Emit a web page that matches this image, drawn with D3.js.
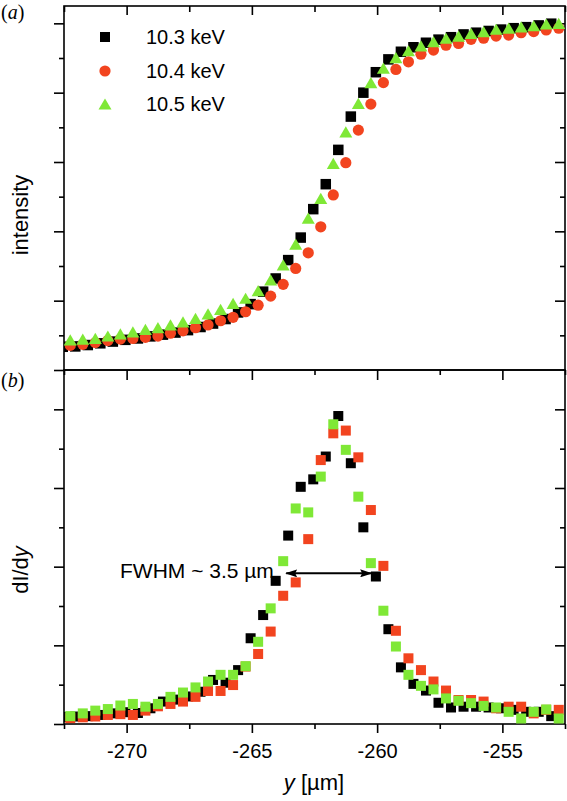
<!DOCTYPE html>
<html><head><meta charset="utf-8">
<script src="https://cdn.jsdelivr.net/npm/d3@7"></script>
<style>
html,body{margin:0;padding:0;background:#fff;}
svg{display:block;}
text{font-family:"Liberation Sans",Arial,sans-serif;fill:#000;}
</style></head>
<body>
<script>
// ---------- data ----------
const seriesNames = ["10.3 keV", "10.4 keV", "10.5 keV"];
const seriesColors = ["#000000", "#f2441f", "#7fe836"];

// x positions (µm)
const xBlack = [-272.55,-272.05,-271.55,-271.05,-270.55,-270.05,-269.55,-269.05,-268.55,-268.05,
  -267.55,-267.05,-266.55,-266.05,-265.55,-265.05,-264.55,-264.05,-263.55,-263.05,
  -262.55,-262.05,-261.55,-261.05,-260.55,-260.05,-259.55,-259.05,-258.55,-258.05,
  -257.55,-257.05,-256.55,-256.05,-255.55,-255.05,-254.55,-254.05,-253.55,-253.05];
const xColor = [-272.25,-271.75,-271.25,-270.75,-270.25,-269.75,-269.25,-268.75,-268.25,-267.75,
  -267.25,-266.75,-266.25,-265.75,-265.25,-264.75,-264.25,-263.75,-263.25,-262.75,
  -262.25,-261.75,-261.25,-260.75,-260.25,-259.75,-259.25,-258.75,-258.25,-257.75,
  -257.25,-256.75,-256.25,-255.75,-255.25,-254.75,-254.25,-253.75,-253.25,-252.75];

// panel (a): intensity
const intensity103 = [0.067,0.068,0.072,0.077,0.082,0.087,0.091,0.097,0.102,0.108,
  0.115,0.124,0.134,0.147,0.166,0.190,0.226,0.264,0.317,0.382,
  0.464,0.536,0.635,0.731,0.800,0.859,0.896,0.918,0.931,0.944,
  0.953,0.960,0.968,0.973,0.978,0.982,0.986,0.989,0.994,0.999];
const intensity104 = [0.071,0.074,0.079,0.085,0.089,0.091,0.094,0.098,0.106,0.113,
  0.122,0.130,0.142,0.152,0.168,0.187,0.213,0.247,0.293,0.338,
  0.413,0.505,0.598,0.692,0.767,0.829,0.867,0.889,0.911,0.923,
  0.937,0.942,0.954,0.957,0.963,0.966,0.973,0.976,0.981,0.986];
const intensity105 = [0.087,0.089,0.091,0.098,0.104,0.110,0.117,0.122,0.130,0.139,
  0.149,0.162,0.175,0.192,0.207,0.229,0.260,0.303,0.363,0.438,
  0.495,0.596,0.687,0.769,0.829,0.871,0.901,0.921,0.935,0.947,
  0.957,0.963,0.971,0.976,0.983,0.986,0.990,0.993,0.998,1.000];

// panel (b): dI/dy
const deriv103 = [0.018,0.019,0.020,0.023,0.027,0.030,0.028,0.040,0.057,0.062,
  0.070,0.082,0.112,0.105,0.137,0.218,0.277,0.364,0.479,0.603,
  0.622,0.680,0.783,0.663,0.500,0.375,0.241,0.144,0.102,0.085,
  0.054,0.042,0.044,0.044,0.042,0.040,0.036,0.031,0.031,0.020];
const deriv104 = [0.015,0.017,0.019,0.023,0.025,0.023,0.034,0.045,0.051,0.057,
  0.069,0.084,0.084,0.099,0.146,0.178,0.235,0.326,0.360,0.470,
  0.671,0.739,0.746,0.678,0.544,0.402,0.237,0.167,0.137,0.108,
  0.085,0.061,0.061,0.057,0.040,0.044,0.044,0.027,0.036,0.036];
const deriv105 = [0.020,0.027,0.034,0.038,0.047,0.051,0.044,0.051,0.069,0.080,
  0.093,0.108,0.125,0.125,0.147,0.209,0.294,0.414,0.548,0.538,
  0.629,0.762,0.697,0.578,0.409,0.288,0.197,0.125,0.097,0.088,
  0.065,0.059,0.053,0.046,0.042,0.031,0.014,0.031,0.037,0.014];

const xMajorTicks = [-270, -265, -260, -255];
const xMinorTicks = [-272.5, -267.5, -262.5, -257.5, -252.5];
const xTickLabels = ["-270", "-265", "-260", "-255"];
const yaMajor = [0, 0.2, 0.4, 0.6, 0.8, 1.0];
const yaMinor = [0.1, 0.3, 0.5, 0.7, 0.9];
const ybMajor = [0, 0.2, 0.4, 0.6, 0.8];
const ybMinor = [0.1, 0.3, 0.5, 0.7];
const fwhmArrow = [-263.63, -260.24];
const fwhmLevel = 0.383;
const fwhmText = "FWHM ~ 3.5 µm";

// ---------- layout ----------
const W = 567, H = 801;
const L = 64, R = 565, topA = 6, mid = 370, botB = 724;
const svg = d3.select("body").append("svg").attr("width", W).attr("height", H);

const x = d3.scaleLinear().domain([-272.5, -252.5]).range([L, R]);
const yA = d3.scaleLinear().domain([0, 1.05]).range([mid, topA]);
const yB = d3.scaleLinear().domain([0, 0.9]).range([botB, mid]);

svg.append("defs").append("clipPath").attr("id", "clipA")
  .append("rect").attr("x", L).attr("y", topA).attr("width", R - L).attr("height", mid - topA);
svg.select("defs").append("clipPath").attr("id", "clipB")
  .append("rect").attr("x", L).attr("y", mid).attr("width", R - L).attr("height", botB - mid);

function axisG(axis, tx, ty) {
  const g = svg.append("g").attr("transform", `translate(${tx},${ty})`).call(axis);
  g.select(".domain").remove();
  g.selectAll("line").attr("stroke", "#000").attr("stroke-width", 1.6);
  g.selectAll("text").remove();
  return g;
}
// panel a ticks
axisG(d3.axisTop(x).tickValues(xMajorTicks).tickSize(-9), 0, topA);
axisG(d3.axisTop(x).tickValues(xMinorTicks).tickSize(-6), 0, topA);
axisG(d3.axisLeft(yA).tickValues(yaMajor).tickSize(10), L, 0);
axisG(d3.axisLeft(yA).tickValues(yaMinor).tickSize(5), L, 0);
axisG(d3.axisRight(yA).tickValues(yaMajor.slice(1)).tickSize(-10), R, 0);
axisG(d3.axisRight(yA).tickValues(yaMinor).tickSize(-5), R, 0);
// panel b ticks
axisG(d3.axisTop(x).tickValues(xMajorTicks).tickSize(-10), 0, mid);
axisG(d3.axisTop(x).tickValues(xMinorTicks).tickSize(-5), 0, mid);
axisG(d3.axisLeft(yB).tickValues(ybMajor).tickSize(10), L, 0);
axisG(d3.axisLeft(yB).tickValues(ybMinor).tickSize(5), L, 0);
axisG(d3.axisRight(yB).tickValues(ybMajor.slice(1)).tickSize(-10), R, 0);
axisG(d3.axisRight(yB).tickValues(ybMinor).tickSize(-5), R, 0);
const bx = svg.append("g").attr("transform", `translate(0,${botB})`)
  .call(d3.axisBottom(x).tickValues(xMajorTicks).tickSize(9).tickFormat((d, i) => xTickLabels[i]));
bx.select(".domain").remove();
bx.selectAll("line").attr("stroke", "#000").attr("stroke-width", 1.6);
bx.selectAll("text").attr("font-size", 20).attr("dy", "1.1em")
  .style("font-family", '"Liberation Sans",Arial,sans-serif').attr("fill", "#000");
axisG(d3.axisBottom(x).tickValues(xMinorTicks).tickSize(5), 0, botB);

// frames
svg.append("rect").attr("x", L).attr("y", topA).attr("width", R - L).attr("height", mid - topA)
  .attr("fill", "none").attr("stroke", "#000").attr("stroke-width", 1.6);
svg.append("rect").attr("x", L).attr("y", mid).attr("width", R - L).attr("height", botB - mid)
  .attr("fill", "none").attr("stroke", "#000").attr("stroke-width", 1.6);

// markers
const triPath = (s) => `M0,${-s * 0.43}L${s / 2},${s * 0.43}L${-s / 2},${s * 0.43}Z`;
function drawSquares(g, xs, ys, yScale, color, size) {
  g.selectAll(null).data(ys).enter().append("rect")
    .attr("x", (d, i) => x(xs[i]) - size / 2).attr("y", d => yScale(d) - size / 2)
    .attr("width", size).attr("height", size).attr("fill", color);
}
const gA = svg.append("g").attr("clip-path", "url(#clipA)");
drawSquares(gA, xBlack, intensity103, yA, seriesColors[0], 10.5);
gA.selectAll(null).data(intensity104).enter().append("circle")
  .attr("cx", (d, i) => x(xColor[i])).attr("cy", d => yA(d)).attr("r", 5.6).attr("fill", seriesColors[1]);
gA.selectAll(null).data(intensity105).enter().append("path")
  .attr("d", triPath(13)).attr("transform", (d, i) => `translate(${x(xColor[i])},${yA(d)})`)
  .attr("fill", seriesColors[2]);

const gB = svg.append("g").attr("clip-path", "url(#clipB)");
drawSquares(gB, xBlack, deriv103, yB, seriesColors[0], 10);
drawSquares(gB, xColor, deriv104, yB, seriesColors[1], 10);
drawSquares(gB, xColor, deriv105, yB, seriesColors[2], 10);

// legend
const leg = svg.append("g");
const legY = [37, 71, 104];
leg.append("rect").attr("x", 100).attr("y", legY[0] - 5).attr("width", 10).attr("height", 10).attr("fill", seriesColors[0]);
leg.append("circle").attr("cx", 105).attr("cy", legY[1]).attr("r", 5.6).attr("fill", seriesColors[1]);
leg.append("path").attr("d", triPath(13)).attr("transform", `translate(105,${legY[2]})`).attr("fill", seriesColors[2]);
seriesNames.forEach((n, i) => {
  leg.append("text").attr("x", 146).attr("y", legY[i] + 7).attr("font-size", 20).text(n);
});

// FWHM annotation
const defs = svg.select("defs");
defs.append("marker").attr("id", "ah").attr("viewBox", "0 0 12 8").attr("refX", 11).attr("refY", 4)
  .attr("markerWidth", 12).attr("markerHeight", 8).attr("markerUnits", "userSpaceOnUse").attr("orient", "auto-start-reverse")
  .append("path").attr("d", "M0,0L12,4L0,8L2,4Z").attr("fill", "#000");
svg.append("line").attr("x1", x(fwhmArrow[0])).attr("x2", x(fwhmArrow[1]))
  .attr("y1", yB(fwhmLevel)).attr("y2", yB(fwhmLevel))
  .attr("stroke", "#000").attr("stroke-width", 2)
  .attr("marker-start", "url(#ah)").attr("marker-end", "url(#ah)");
svg.append("text").attr("x", 120).attr("y", 578).attr("font-size", 21).text(fwhmText);

// panel letters
const la = svg.append("text").attr("x", 1).attr("y", 19).attr("font-size", 20).style("font-family", '"Liberation Serif","Times New Roman",serif');
la.append("tspan").text("(");
la.append("tspan").attr("font-style", "italic").text("a");
la.append("tspan").text(")");
const lb = svg.append("text").attr("x", 1).attr("y", 387).attr("font-size", 20).style("font-family", '"Liberation Serif","Times New Roman",serif');
lb.append("tspan").text("(");
lb.append("tspan").attr("font-style", "italic").text("b");
lb.append("tspan").text(")");

// axis titles
svg.append("text").attr("transform", "translate(28,215) rotate(-90)").attr("text-anchor", "middle")
  .attr("font-size", 22).text("intensity");
const dl = svg.append("text").attr("transform", "translate(28,570) rotate(-90)").attr("text-anchor", "middle")
  .attr("font-size", 22);
dl.append("tspan").text("dI/d");
dl.append("tspan").attr("font-style", "italic").text("y");
const xl = svg.append("text").attr("x", 314).attr("y", 790).attr("text-anchor", "middle").attr("font-size", 22);
xl.append("tspan").attr("font-style", "italic").text("y");
xl.append("tspan").text(" [µm]");
</script>
</body></html>
